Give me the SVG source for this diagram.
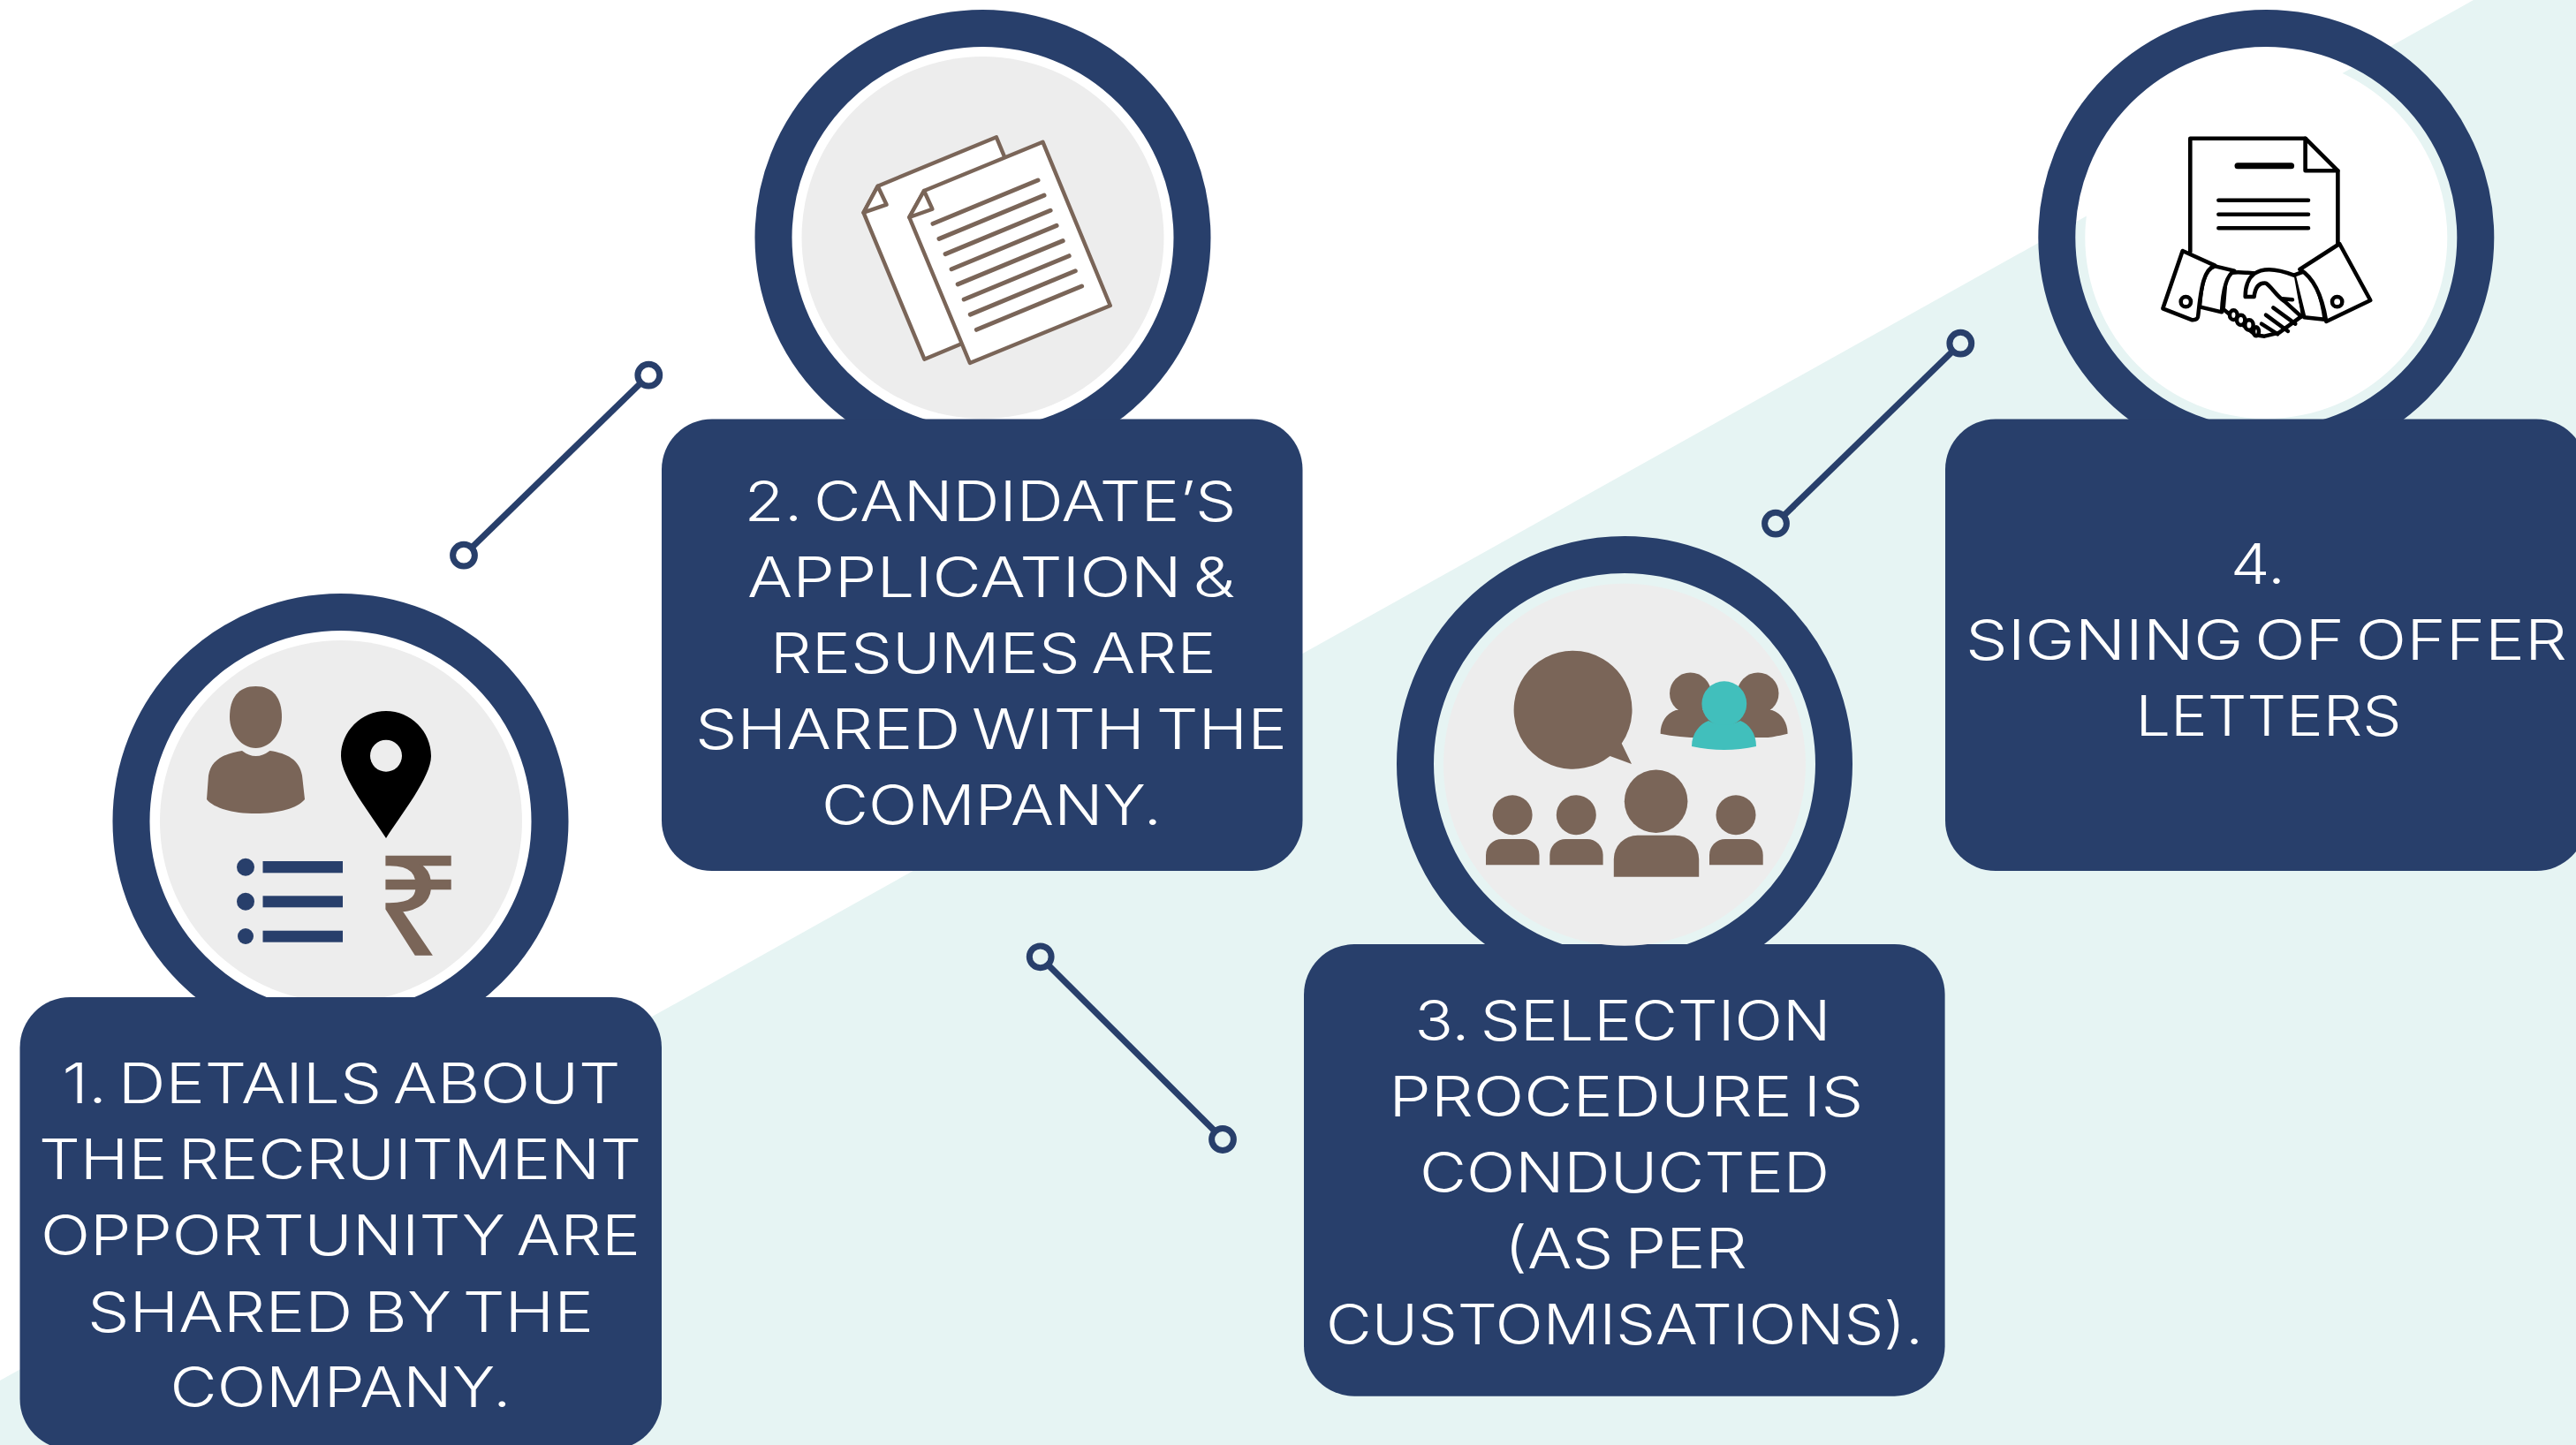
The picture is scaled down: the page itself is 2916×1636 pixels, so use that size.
<svg xmlns="http://www.w3.org/2000/svg" width="2916" height="1636" viewBox="0 0 2916 1636">
<style>
.ring{fill:none;stroke:#283f6b;stroke-width:42}
.box{fill:#283f6b}
.disc{fill:#ededed}
.brown{fill:#7a6558}
.navy{fill:#283f6b}
.teal{fill:#41bfbc}
.lbl{font-family:"Inter","Liberation Sans",sans-serif;font-weight:300;font-size:62.5px;word-spacing:-7px;fill:#fff}
.page{fill:#fff;stroke:#7a6558;stroke-width:4.4;stroke-linejoin:round}
.rule{fill:none;stroke:#7a6558;stroke-width:5;stroke-linecap:round}
.ink{fill:#fff;stroke:#000;stroke-width:4.6;stroke-linejoin:round;stroke-linecap:round}
.hand{fill:#fff;stroke:#000;stroke-width:13.5;stroke-linejoin:round;stroke-linecap:round}
.open{fill:none}
.link{stroke:#283f6b;stroke-width:7.2}
.dot{fill:none;stroke:#283f6b;stroke-width:7}
</style>
<rect width="2916" height="1636" fill="#fff"/>
<polygon points="2800,0 2916,0 2916,1636 0,1636 0,1563" fill="#e6f4f3"/>

<g id="connectors">
<line class="link" x1="535" y1="619" x2="724.5" y2="434.5"/>
<circle class="dot" cx="525" cy="628.7" r="12.4"/><circle class="dot" cx="734.3" cy="424.7" r="12.4"/>
<line class="link" x1="1187" y1="1093" x2="1374.5" y2="1280"/>
<circle class="dot" cx="1177.7" cy="1083.3" r="12.4"/><circle class="dot" cx="1384" cy="1290" r="12.4"/>
<line class="link" x1="2020" y1="583" x2="2209.5" y2="398.5"/>
<circle class="dot" cx="2010" cy="592.7" r="12.4"/><circle class="dot" cx="2219.3" cy="388.7" r="12.4"/>
</g>

<g id="step-1">
<circle class="ring" cx="385.5" cy="930" r="237"/>
<circle class="disc" cx="386" cy="930" r="205"/>
<rect class="box" x="22.5" y="1129" width="726.5" height="512" rx="57"/>
<path class="brown" d="M289.5 777C309 777 319 790 319 812C319 830 306 847 289.5 847C273 847 260 830 260 812C260 790 270 777 289.5 777Z"/>
<path class="brown" d="M274 850Q289.5 862 305.5 850C325 853 339 860 342 878L345 905C337 915 315 921 289.5 921C264 921 242 915 234 905L236 878C239 860 254 853 274 850Z"/>
<path d="M437 949C420 922 386 880 386 856C386 828 409 805 437 805C465 805 488 828 488 856C488 880 454 922 437 949Z" fill="#000"/>
<circle class="disc" cx="437" cy="855.7" r="18"/>
<circle class="navy" cx="278" cy="981.7" r="10"/><circle class="navy" cx="278" cy="1020.7" r="10"/><circle class="navy" cx="278" cy="1060" r="9"/>
<rect class="navy" x="297.5" y="975" width="90.5" height="13.3"/><rect class="navy" x="297.5" y="1014.3" width="90.5" height="13"/><rect class="navy" x="297.5" y="1053.7" width="90.5" height="13"/>
<text class="brown" transform="translate(473.5 1081) scale(1.13 1)" text-anchor="middle" stroke="#7a6558" stroke-width="1.6" style="font-family:'Noto Sans','DejaVu Sans',sans-serif;font-size:155px">₹</text>
<text class="lbl" x="70.6" y="1249.4" textLength="632" lengthAdjust="spacingAndGlyphs">1. DETAILS ABOUT</text>
<text class="lbl" x="44" y="1335.2" textLength="682" lengthAdjust="spacingAndGlyphs">THE RECRUITMENT</text>
<text class="lbl" x="46" y="1421.4" textLength="679" lengthAdjust="spacingAndGlyphs">OPPORTUNITY ARE</text>
<text class="lbl" x="99" y="1507.5" textLength="573" lengthAdjust="spacingAndGlyphs">SHARED BY THE</text>
<text class="lbl" x="192.5" y="1593.3" textLength="386" lengthAdjust="spacingAndGlyphs">COMPANY.</text>
</g>

<g id="step-2">
<circle class="ring" cx="1112.5" cy="269" r="237"/>
<circle class="disc" cx="1112.5" cy="269" r="205"/>
<rect class="box" x="749" y="474.5" width="725.5" height="511.5" rx="57"/>
<polygon class="page" points="993.6,210.7 1127.9,155.3 1204.4,340.7 1046.4,406.7 977.5,240.7"/>
<polygon class="page" points="993.6,210.7 1003.6,231.7 977.5,240.7"/>
<polygon class="page" points="1046,216 1180.4,160.7 1256.8,346 1097.9,411 1029.3,246"/>
<polygon class="page" points="1046,216 1055.4,236.7 1029.3,246"/>
<path class="rule" d="M1056 253.3L1175 204M1063 270.4L1182 221.1M1070.1 287.6L1189.1 238.3M1077.1 304.7L1196.1 255.4M1084.2 321.9L1203.2 272.6M1091.2 339L1210.2 289.7M1098.3 356.1L1217.3 306.8M1105.4 373.3L1224.6 324"/>
<text class="lbl" x="842.6" y="589.8" textLength="557" lengthAdjust="spacingAndGlyphs">2. CANDIDATE’S</text>
<text class="lbl" x="846" y="675.9" textLength="552" lengthAdjust="spacingAndGlyphs">APPLICATION &amp;</text>
<text class="lbl" x="871.7" y="762" textLength="505" lengthAdjust="spacingAndGlyphs">RESUMES ARE</text>
<text class="lbl" x="787" y="848" textLength="670" lengthAdjust="spacingAndGlyphs">SHARED WITH THE</text>
<text class="lbl" x="930" y="933.5" textLength="385" lengthAdjust="spacingAndGlyphs">COMPANY.</text>
</g>

<g id="step-3">
<circle class="ring" cx="1839" cy="865" r="237"/>
<rect class="box" x="1476" y="1069" width="725.6" height="511.7" rx="57"/>
<circle class="disc" cx="1839" cy="865.7" r="205"/>
<path class="brown" d="M1780 736.7A67 67 0 1 0 1822.5 856L1847 865L1835.7 841.7A67 67 0 0 0 1780 736.7Z"/>
<circle class="brown" cx="1913.5" cy="785" r="23.5"/><circle class="brown" cx="1990" cy="785" r="23.5"/>
<path class="brown" d="M1897 804C1886 808 1879.6 818 1879.6 830.7Q1905 836 1935 835L2000 835Q2005 835 2023.6 830.7C2023.6 818 2017 808 2006 804Z"/>
<circle class="teal" cx="1951.8" cy="796.7" r="25.4"/>
<path class="teal" d="M1934 816Q1952 826 1970 816C1980 820 1988 830 1988 845Q1952 853 1915 845C1915 830 1924 820 1934 816Z"/>
<circle class="brown" cx="1712.1" cy="922.7" r="22.5"/><circle class="brown" cx="1784.3" cy="922.7" r="22.5"/><circle class="brown" cx="1874.6" cy="907.3" r="35.8"/><circle class="brown" cx="1965" cy="922.7" r="22.5"/>
<path class="brown" d="M1682 979.3V968A18 18 0 0 1 1700 950H1724.5A18 18 0 0 1 1742.5 968V979.3Z"/>
<path class="brown" d="M1754.3 979.3V968A18 18 0 0 1 1772.3 950H1796.6A18 18 0 0 1 1814.6 968V979.3Z"/>
<path class="brown" d="M1826.8 992.7V972.7A27 27 0 0 1 1853.8 945.7H1896.2A27 27 0 0 1 1923.2 972.7V992.7Z"/>
<path class="brown" d="M1935 979.3V968A18 18 0 0 1 1953 950H1977.7A18 18 0 0 1 1995.7 968V979.3Z"/>
<text class="lbl" x="1601.4" y="1178" textLength="471" lengthAdjust="spacingAndGlyphs">3. SELECTION</text>
<text class="lbl" x="1572.3" y="1264" textLength="537" lengthAdjust="spacingAndGlyphs">PROCEDURE IS</text>
<text class="lbl" x="1607" y="1350" textLength="464" lengthAdjust="spacingAndGlyphs">CONDUCTED</text>
<text class="lbl" x="1703" y="1436" textLength="275" lengthAdjust="spacingAndGlyphs">(AS PER</text>
<text class="lbl" x="1501" y="1522" textLength="676" lengthAdjust="spacingAndGlyphs">CUSTOMISATIONS).</text>
</g>

<g id="step-4">
<circle class="ring" cx="2565.3" cy="269" r="237"/>
<circle cx="2565.3" cy="269" r="205" fill="#fff"/>
<rect class="box" x="2202" y="474.5" width="726" height="511.5" rx="57"/>
<path class="ink" d="M2479.3 285V156.7H2609.6L2646.4 193.3V278"/>
<path class="ink open" d="M2609.6 156.7V193.3H2646.4"/>
<path class="ink open" style="stroke-width:7" d="M2533 187.7H2593.6"/>
<path class="ink open" d="M2511.4 226.7H2613M2511.4 242.7H2613M2511.4 258.3H2613"/>
<g transform="translate(2420 260) scale(.3333)">
<path class="hand" d="M300 150C330 140 360 146 390 148L530 155L560 240L555 295L480 350L430 362L400 358L290 270Z"/>
<path class="hand" d="M262 124L328 140C298 155 288 210 285 280L210 262C215 190 225 135 262 124Z"/>
<path class="hand" d="M152 72L262 122C225 135 215 190 205 290Q205 308 185 307L85 268Z"/>
<circle class="hand" cx="163" cy="245" r="17"/>
<path class="hand" d="M530 155L570 140C600 160 625 230 635 305L565 298Z"/>
<path class="hand" d="M685 48L790 240L640 312C630 250 610 170 550 135Z"/>
<circle class="hand" cx="677" cy="245" r="17"/>
<path class="hand" d="M530 155C480 135 430 125 395 150C375 165 365 190 365 228L395 228C398 200 410 180 435 182C455 195 470 225 500 245L555 295"/>
<path class="hand open" d="M460 265L535 320M435 290L510 345M420 320L475 355M490 235L525 238"/>
<ellipse class="hand" cx="325" cy="290" rx="13" ry="16"/><ellipse class="hand" cx="350" cy="307" rx="14" ry="17"/><ellipse class="hand" cx="378" cy="324" rx="14" ry="17"/><ellipse class="hand" cx="402" cy="346" rx="9" ry="15"/>
</g>
<text class="lbl" x="2525" y="660.8" textLength="62" lengthAdjust="spacingAndGlyphs">4.</text>
<text class="lbl" x="2225" y="746.5" textLength="681" lengthAdjust="spacingAndGlyphs">SIGNING OF OFFER</text>
<text class="lbl" x="2417.5" y="832.6" textLength="301" lengthAdjust="spacingAndGlyphs">LETTERS</text>
</g>
</svg>
